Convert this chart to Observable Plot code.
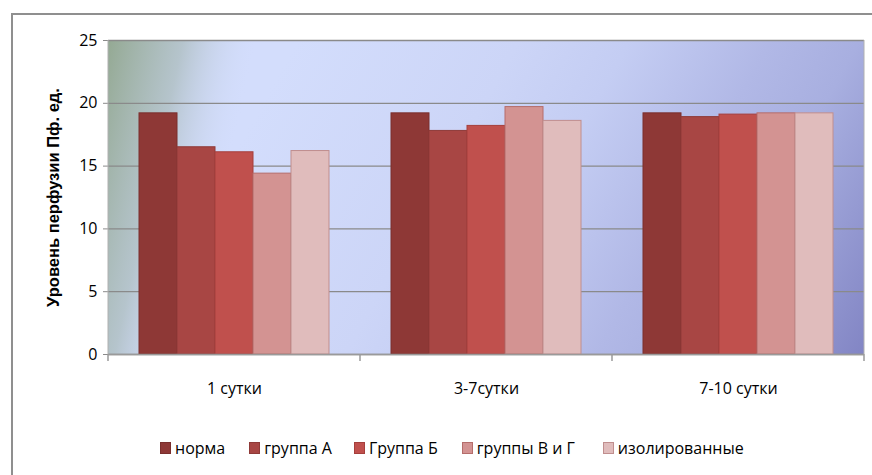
<!DOCTYPE html>
<html><head><meta charset="utf-8">
<script src="https://cdn.jsdelivr.net/npm/d3@7"></script>
<script src="https://cdn.jsdelivr.net/npm/@observablehq/plot@0.6"></script>
<style>
body{margin:0;background:#fff;overflow:hidden;}
#wrap{position:relative;width:872px;height:475px;overflow:hidden;font-family:"Open Sans",sans-serif;}
#border{position:absolute;left:11px;top:13px;width:900px;height:500px;border:2px solid #8f8f8f;box-sizing:border-box;}
#chart{position:absolute;left:0;top:0;}
#legend{position:absolute;top:437px;left:160px;display:flex;align-items:center;font-size:16px;color:#000;white-space:nowrap;}
#legend .it{display:flex;align-items:center;}
#legend .sw{width:9px;height:10px;border:1px solid;margin-right:4px;}
</style></head>
<body><div id="wrap"><div id="border"></div><div id="chart"></div><div id="legend"></div></div>
<script>
const periods = ["1 сутки", "3-7сутки", "7-10 сутки"];
const series = ["норма", "группа А", "Группа Б", "группы В и Г", "изолированные"];
const norma = [19.2, 19.2, 19.2];
const groupA = [16.5, 17.8, 18.9];
const groupB = [16.1, 18.2, 19.1];
const groupVG = [14.4, 19.7, 19.2];
const isolated = [16.2, 18.6, 19.2];
const yTicks = [0, 5, 10, 15, 20, 25];
const fills = ["#8e3836", "#a84644", "#c0504d", "#d39392", "#e0bcbc"];
const strokes = ["#7a2f2d", "#8f3a38", "#a53f3c", "#b56d6b", "#c08e8e"];
const legendGaps = [0, 24, 22, 24, 28];

const values = [norma, groupA, groupB, groupVG, isolated];
const data = [];
periods.forEach((p, i) => series.forEach((s, j) => data.push({period: p, series: s, value: values[j][i]})));

const plot = Plot.plot({
  width: 872, height: 410,
  marginLeft: 107, marginRight: 7, marginTop: 40, marginBottom: 56,
  style: {fontFamily: "Open Sans", fontSize: "16px", color: "#000", background: "transparent"},
  fx: {domain: periods, padding: 0, label: null, axis: "bottom", tickSize: 0, tickPadding: 28},
  x: {domain: series, paddingInner: 0, paddingOuter: 0.74, axis: null},
  y: {domain: [0, 25], label: null},
  color: {domain: series, range: fills},
  marks: [
    Plot.gridY(yTicks, {stroke: "#8a8a8a", strokeOpacity: 1, strokeWidth: 1.3}),
    Plot.barY(data, {fx: "period", x: "series", y: "value", fill: "series",
      stroke: d => strokes[series.indexOf(d.series)], strokeWidth: 1}),
    Plot.ruleY([0], {stroke: "#9a9a9a", strokeWidth: 1.5}),
    Plot.axisY(yTicks, {tickSize: 5, tickPadding: 6, stroke: "#8a8a8a", label: null, fontSize: 16}),
    Plot.axisY([], {label: "Уровень перфузии Пф. ед.", labelAnchor: "center", labelArrow: "none", labelOffset: 61,
      fontWeight: "bold", fontFamily: "Liberation Sans", fontSize: 16.5, letterSpacing: "1.3px"})
  ]
});

const svg = d3.select(plot);
const fx = plot.scale("fx");
const yS = plot.scale("y");
const x0 = fx.apply(periods[0]);
const x1 = fx.apply(periods[periods.length - 1]) + fx.bandwidth;
const yTop = yS.apply(yTicks[yTicks.length - 1]);
const yBot = yS.apply(0);
const W = x1 - x0, H = yBot - yTop;

const defs = svg.insert("defs", ":first-child");
const main = defs.append("linearGradient").attr("id", "bgMain").attr("gradientUnits", "userSpaceOnUse")
  .attr("x1", x0 + W * 0.25).attr("y1", yTop).attr("x2", x1).attr("y2", yBot);
[[0, "#d3ddfc"], [0.3, "#ccd5f7"], [0.45, "#c4cdf3"], [0.64, "#b1b8e6"], [0.76, "#a8afe0"], [1, "#8285c4"]]
  .forEach(([o, c]) => main.append("stop").attr("offset", o).attr("stop-color", c));
const left = defs.append("linearGradient").attr("id", "bgLeft").attr("gradientUnits", "userSpaceOnUse")
  .attr("x1", x0).attr("y1", yTop).attr("x2", x0 + W * 0.19).attr("y2", yTop + H * 0.1);
[[0, "#94a993", 1], [0.5, "#b0c0c4", 0.85], [1, "#d3ddfc", 0]]
  .forEach(([o, c, a]) => left.append("stop").attr("offset", o).attr("stop-color", c).attr("stop-opacity", a));

const bgG = svg.insert("g", "defs + *");
bgG.append("rect").attr("x", x0).attr("y", yTop).attr("width", W).attr("height", H).attr("fill", "url(#bgMain)");
bgG.append("rect").attr("x", x0).attr("y", yTop).attr("width", W).attr("height", H).attr("fill", "url(#bgLeft)");

svg.append("line").attr("x1", x0).attr("x2", x0).attr("y1", yTop).attr("y2", yBot).attr("stroke", "#b0b0b0");
svg.append("line").attr("x1", x1).attr("x2", x1).attr("y1", yTop).attr("y2", yBot).attr("stroke", "#b0b0b0");
const bounds = periods.map(p => fx.apply(p)).concat([x1]);
bounds.forEach(b => svg.append("line").attr("x1", b).attr("x2", b).attr("y1", yBot).attr("y2", yBot + 7).attr("stroke", "#9a9a9a").attr("stroke-width", 1.5));
document.getElementById("chart").appendChild(plot);

const legend = d3.select("#legend");
series.forEach((s, i) => {
  const it = legend.append("div").attr("class", "it").style("margin-left", legendGaps[i] + "px");
  it.append("div").attr("class", "sw").style("background", fills[i]).style("border-color", strokes[i]);
  it.append("span").text(s);
});
</script></body></html>
